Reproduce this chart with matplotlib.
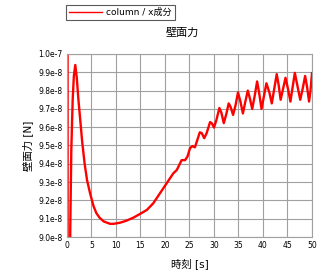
import matplotlib
matplotlib.use("Agg")
import matplotlib.pyplot as plt
from matplotlib.lines import Line2D

plt.rcParams['font.family'] = ['DejaVu Sans', 'Noto Sans CJK JP']

# time [s]
time = [0.1, 0.15, 0.62, 0.67, 0.88, 1.16, 1.4, 1.69, 2.0, 2.3, 2.65, 3.1, 3.6, 4.1,
        4.7, 5.4, 6.0, 6.7, 7.5, 8.8, 9.5, 10.8, 12.0, 13.5, 14.9, 16.3, 17.6,
        19.0, 20.0, 21.0, 21.7, 22.4, 22.9, 23.4, 24.1, 24.6, 25.1, 25.6, 26.1,
        26.6, 27.1, 27.5, 28.0, 28.5, 29.2, 29.6, 30.0, 30.5, 31.1, 31.5, 32.0,
        32.5, 33.0, 33.4, 33.9, 34.4, 34.9, 35.4, 35.9, 36.4, 36.9, 37.3, 37.8,
        38.3, 38.8, 39.2, 39.7, 40.2, 40.7, 41.3, 41.8, 42.3, 42.8, 43.2, 43.6,
        44.1, 44.6, 45.1, 45.6, 46.0, 46.5, 47.0, 47.6, 48.1, 48.6, 49.0, 49.4,
        49.7, 50.0]

# wall force, in units of 1e-8 N
force = [12.0, 7.0, 8.8, 9.05, 9.475, 9.75, 9.88, 9.94, 9.87, 9.76, 9.656, 9.52,
         9.40, 9.31, 9.24, 9.17, 9.13, 9.104, 9.085, 9.072, 9.072, 9.078, 9.088,
         9.105, 9.126, 9.148, 9.184, 9.24, 9.28, 9.32, 9.348, 9.366, 9.393, 9.42,
         9.42, 9.44, 9.485, 9.497, 9.49, 9.53, 9.572, 9.568, 9.54, 9.567, 9.628,
         9.62, 9.598, 9.64, 9.705, 9.68, 9.622, 9.67, 9.73, 9.71, 9.667, 9.72,
         9.79, 9.74, 9.675, 9.74, 9.80, 9.76, 9.70, 9.77, 9.85, 9.79, 9.70, 9.77,
         9.84, 9.79, 9.73, 9.81, 9.89, 9.83, 9.75, 9.81, 9.87, 9.81, 9.74, 9.81,
         9.897, 9.83, 9.75, 9.81, 9.88, 9.82, 9.74, 9.80, 9.895]

xticks = [0, 5, 10, 15, 20, 25, 30, 35, 40, 45, 50]
yticks = [9.0, 9.1, 9.2, 9.3, 9.4, 9.5, 9.6, 9.7, 9.8, 9.9, 10.0]
ytick_labels = ['9.0e-8', '9.1e-8', '9.2e-8', '9.3e-8', '9.4e-8', '9.5e-8',
                '9.6e-8', '9.7e-8', '9.8e-8', '9.9e-8', '1.0e-7']

fig = plt.figure(figsize=(3.26, 2.79), dpi=100)
ax = fig.add_axes([0.2055, 0.1505, 0.7515, 0.656])

ax.plot(time, force, color='#ff0000', lw=1.7, solid_joinstyle='round')

ax.set_xlim(0, 50)
ax.set_ylim(9.0, 10.0)
ax.set_xticks(xticks)
ax.set_xticklabels([str(t) for t in xticks], fontsize=5.5)
ax.set_yticks(yticks)
ax.set_yticklabels(ytick_labels, fontsize=5.5)
ax.tick_params(length=0, pad=3)
ax.grid(True, color='#a0a0a0', lw=0.8)
for s in ax.spines.values():
    s.set_color('#a0a0a0')
    s.set_linewidth(0.8)

ax.set_xlabel('時刻 [s]', fontsize=7.5, labelpad=6)
ax.set_ylabel('壁面力 [N]', fontsize=7.5, labelpad=4)
fig.text(182 / 326, 1 - 33 / 279, '壁面力', fontsize=8, ha='center', va='center')

handle = Line2D([], [], color='#ff0000', lw=1)
leg = fig.legend([handle], ['column / x成分'], loc='upper left',
                 bbox_to_anchor=(66 / 326, 1 - 5 / 279), fontsize=6.5,
                 frameon=True, fancybox=False, handlelength=3.6, borderpad=0.35,
                 handletextpad=0.5, borderaxespad=0)
leg.get_frame().set_edgecolor('#303030')
leg.get_frame().set_linewidth(0.8)

fig.savefig('out.png', dpi=100)
